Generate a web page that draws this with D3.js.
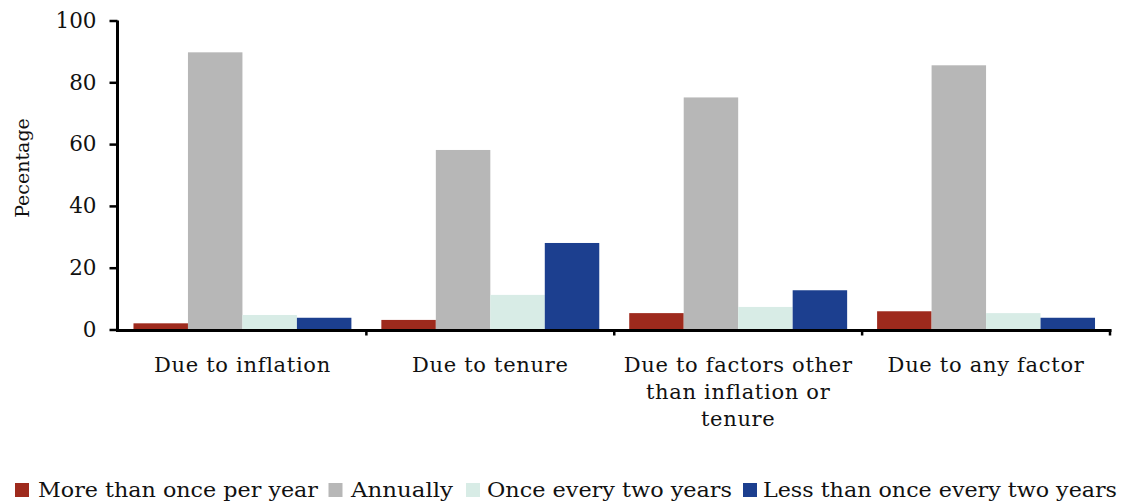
<!DOCTYPE html>
<html><head><meta charset="utf-8">
<script src="https://cdn.jsdelivr.net/npm/d3@7"></script>
<style>body{margin:0;background:#fff}svg{display:block}</style>
</head><body>
<svg id="c" width="1121" height="503"></svg>
<script>
const categories = ["Due to inflation", "Due to tenure", "Due to factors other than inflation or tenure", "Due to any factor"];
const categoryLines = [["Due to inflation"], ["Due to tenure"], ["Due to factors other", "than inflation or", "tenure"], ["Due to any factor"]];
const seriesNames = ["More than once per year", "Annually", "Once every two years", "Less than once every two years"];
const moreThanOnce = [2.0, 3.1, 5.3, 5.9];
const annually = [89.7, 58.1, 75.1, 85.5];
const everyTwoYears = [4.7, 11.2, 7.3, 5.3];
const lessThanTwoYears = [3.8, 28.0, 12.7, 3.8];
const colors = ["#9e2a1d", "#b7b7b7", "#d8ece6", "#1c3f8f"];
const yTicks = [0, 20, 40, 60, 80, 100];
const yTitle = "Pecentage";

(function () {
const series = [moreThanOnce, annually, everyTwoYears, lessThanTwoYears];
const svg = d3.select("#c");
const font = "DejaVu Serif";
const mLeft = 118.5, mRight = 1110, mTop = 20.5, mBottom = 329.5;

const x = d3.scaleBand().domain(categories).range([mLeft, mRight]).padding(0);
const xi = d3.scaleBand().domain(seriesNames).range([0, x.bandwidth()]).paddingInner(0).paddingOuter(0.275);
const y = d3.scaleLinear().domain([0, 100]).range([mBottom, mTop]);

// bars
const g = svg.append("g");
categories.forEach((c, ci) => {
  series.forEach((s, si) => {
    g.append("rect")
      .attr("x", x(c) + xi(seriesNames[si]))
      .attr("width", xi.bandwidth())
      .attr("y", y(s[ci]))
      .attr("height", y(0) - y(s[ci]))
      .attr("fill", colors[si]);
  });
});

// y axis
const ya = svg.append("g").attr("transform", `translate(${mLeft - 1},0)`)
  .call(d3.axisLeft(y).tickValues(yTicks).tickSize(8).tickPadding(13).tickFormat(d3.format("d")));
ya.select(".domain").attr("stroke", "#000").attr("stroke-width", 3)
  .attr("d", `M0,${mTop}V${mBottom + 1}`);
ya.selectAll(".tick line").attr("stroke", "#000").attr("stroke-width", 2.5);
ya.selectAll("text").attr("font-family", font).attr("font-size", 21.5).attr("fill", "#111");

// x axis
const bounds = categories.map(c => x(c) + x.bandwidth());
const xa = svg.append("g");
xa.append("line").attr("x1", mLeft - 2.5).attr("x2", mRight + 1.5).attr("y1", mBottom + 1).attr("y2", mBottom + 1)
  .attr("stroke", "#000").attr("stroke-width", 3);
xa.selectAll("line.tk").data(bounds).join("line").attr("class", "tk")
  .attr("x1", d => d).attr("x2", d => d).attr("y1", mBottom).attr("y2", mBottom + 6)
  .attr("stroke", "#000").attr("stroke-width", 2.5);

// category labels
categories.forEach((c, ci) => {
  const t = svg.append("text").attr("font-family", font).attr("font-size", 21).attr("fill", "#111")
    .attr("letter-spacing", 0.7).attr("text-anchor", "middle");
  categoryLines[ci].forEach((ln, li) => {
    t.append("tspan").attr("x", x(c) + x.bandwidth() / 2).attr("y", 372 + li * 27).text(ln);
  });
});

// y title
svg.append("text").attr("transform", "translate(29,168) rotate(-90)")
  .attr("text-anchor", "middle").attr("font-family", font).attr("font-size", 19).attr("fill", "#111")
  .text(yTitle);

// legend
const legX = [15, 328.5, 466, 743];
const legTextX = [38, 351, 487, 763];
const legTextW = [280, 102, 245, 354];
const lg = svg.append("g");
seriesNames.forEach((n, i) => {
  lg.append("rect").attr("x", legX[i]).attr("y", 483).attr("width", 14).attr("height", 14).attr("fill", colors[i]);
  lg.append("text").attr("x", legTextX[i]).attr("y", 497).attr("font-family", font).attr("font-size", 20)
    .attr("fill", "#111").attr("textLength", legTextW[i]).attr("lengthAdjust", "spacingAndGlyphs").text(n);
});
})();
</script>
</body></html>
